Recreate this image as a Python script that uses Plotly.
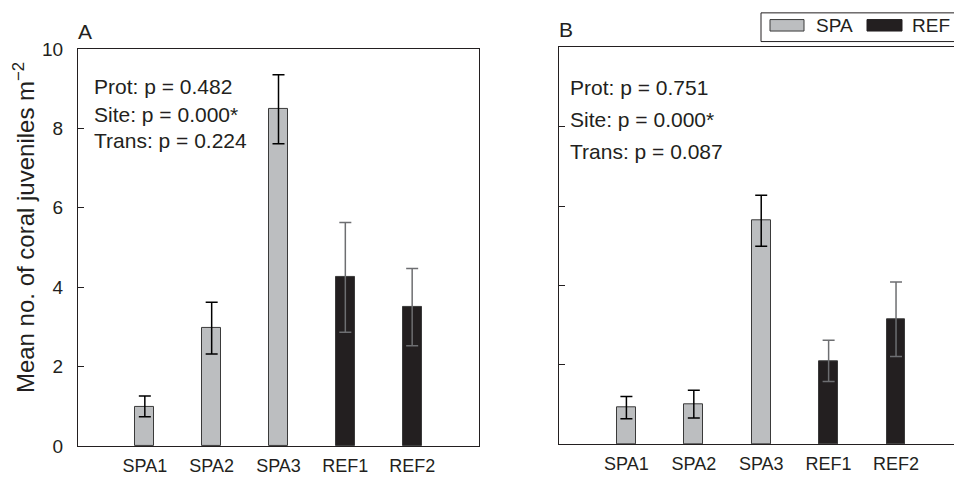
import plotly.graph_objects as go

sites = ["SPA1", "SPA2", "SPA3", "REF1", "REF2"]
groups = ["SPA", "SPA", "SPA", "REF", "REF"]
mean_a = [1.0, 2.97, 8.48, 4.25, 3.5]
err_a = [0.26, 0.65, 0.87, 1.38, 0.97]
mean_b = [0.92, 1.01, 5.63, 2.1, 3.15]
err_b = [0.28, 0.35, 0.64, 0.52, 0.94]
stats_a = ["Prot: p = 0.482", "Site: p = 0.000*", "Trans: p = 0.224"]
stats_b = ["Prot: p = 0.751", "Site: p = 0.000*", "Trans: p = 0.087"]
yticks = [0, 2, 4, 6, 8, 10]
ytitle = "Mean no. of coral juveniles m<sup>−2</sup>"

SPA_COL = "#bcbec0"
REF_COL = "#231f20"
INK = "#231f20"
FONT = "Liberation Sans, Arial, sans-serif"

fig = go.Figure()

def add_panel(means, errs, xa, ya):
    for grp, col, ecol in [("SPA", SPA_COL, "#000000"), ("REF", REF_COL, "#6d6e71")]:
        idx = [i for i, g in enumerate(groups) if g == grp]
        fig.add_trace(go.Bar(
            x=[i for i in idx], y=[means[i] for i in idx],
            width=0.28, marker=dict(color=col, line=dict(color="#3a3a3a", width=1)),
            error_y=dict(type="data", array=[errs[i] for i in idx], color=ecol,
                         thickness=1.5, width=6),
            xaxis=xa, yaxis=ya, showlegend=False, name=grp))

add_panel(mean_a, err_a, "x", "y")
add_panel(mean_b, err_b, "x2", "y2")

axis_common = dict(linecolor=INK, linewidth=1, showgrid=False, zeroline=False)

fig.update_layout(
    width=954, height=483, margin=dict(l=0, r=0, t=0, b=0),
    paper_bgcolor="white", plot_bgcolor="white", bargap=0,
    font=dict(family=FONT, color=INK),
    xaxis=dict(domain=[78/954, 479/954], range=[-1, 5], tickvals=list(range(5)),
               ticktext=sites, showline=True, mirror=True, ticks="",
               ticklabelstandoff=3, tickfont=dict(family=FONT, size=18, color=INK),
               **axis_common),
    yaxis=dict(domain=[1-456/483, 1-40.7/483], range=[0, 10], tickvals=yticks,
               showline=True, mirror=True, ticks="inside", ticklen=6, tickcolor=INK,
               ticklabelstandoff=10, tickfont=dict(family=FONT, size=19, color=INK),
               **axis_common),
    xaxis2=dict(domain=[559/954, 1.0], range=[-1, 4.86], tickvals=list(range(5)),
                ticktext=sites, showline=True, mirror=True, ticks="",
                ticklabelstandoff=3, anchor="y2",
                tickfont=dict(family=FONT, size=18, color=INK), **axis_common),
    yaxis2=dict(domain=[1-454/483, 1-39/483], range=[0, 10], tickvals=yticks,
                showticklabels=False, showline=True, mirror=False, ticks="inside",
                ticklen=6, tickcolor=INK, anchor="x2", **axis_common),
)

# y-axis title
fig.add_annotation(text=ytitle, xref="paper", yref="paper", x=24/954, y=1-228/483,
                   xanchor="center", yanchor="middle", textangle=-90, showarrow=False,
                   font=dict(family=FONT, size=24, color=INK))

# panel letters
fig.add_annotation(text="A", xref="x domain", yref="y domain", x=-0.005, y=1.0,
                   xanchor="left", yanchor="bottom", yshift=4, showarrow=False,
                   font=dict(family=FONT, size=21, color=INK))
fig.add_annotation(text="B", xref="x2 domain", yref="y2 domain", x=-0.005, y=1.0,
                   xanchor="left", yanchor="bottom", yshift=4, showarrow=False,
                   font=dict(family=FONT, size=21, color=INK))

for txt, yy in zip(stats_a, [0.906, 0.835, 0.770]):
    fig.add_annotation(text=txt, xref="x domain", yref="y domain", x=0.035, y=yy,
                       xanchor="left", yanchor="middle", showarrow=False,
                       font=dict(family=FONT, size=21, color=INK))
for txt, yy in zip(stats_b, [0.899, 0.819, 0.737]):
    fig.add_annotation(text=txt, xref="x2 domain", yref="y2 domain", x=0.022, y=yy,
                       xanchor="left", yanchor="middle", showarrow=False,
                       font=dict(family=FONT, size=21, color=INK))

# legend box drawn in paper coordinates
def px(x):
    return x / 954
def py(y):
    return 1 - y / 483

fig.add_shape(type="rect", xref="paper", yref="paper", x0=px(761), x1=px(960),
              y0=py(33), y1=py(3), line=dict(color=INK, width=1), fillcolor="white")
fig.add_shape(type="rect", xref="paper", yref="paper", x0=px(770), x1=px(804),
              y0=py(22), y1=py(10), line=dict(color="#3a3a3a", width=1), fillcolor=SPA_COL)
fig.add_shape(type="rect", xref="paper", yref="paper", x0=px(867), x1=px(902),
              y0=py(22), y1=py(10), line=dict(color=REF_COL, width=1), fillcolor=REF_COL)
fig.add_annotation(text="SPA", xref="paper", yref="paper", x=px(814), y=py(16),
                   xanchor="left", yanchor="middle", showarrow=False,
                   font=dict(family=FONT, size=19, color=INK))
fig.add_annotation(text="REF", xref="paper", yref="paper", x=px(910), y=py(16),
                   xanchor="left", yanchor="middle", showarrow=False,
                   font=dict(family=FONT, size=19, color=INK))

fig.write_html("out.html")
